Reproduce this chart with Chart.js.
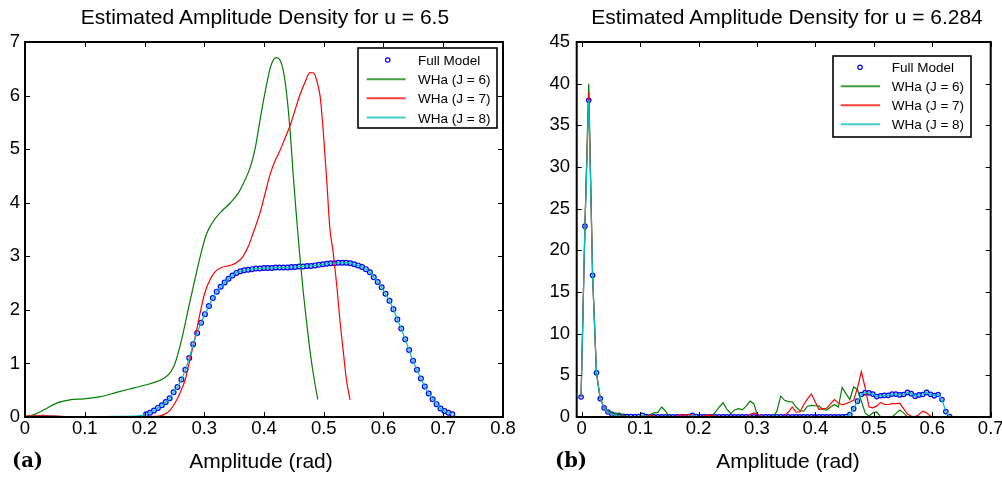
<!DOCTYPE html>
<html><head><meta charset="utf-8">
<script src="https://cdn.jsdelivr.net/npm/chart.js@4.4.1/dist/chart.umd.min.js"></script>
<style>
html,body{margin:0;padding:0;background:#fff;overflow:hidden;width:1002px;height:477px;}
#wrap{position:relative;width:1002px;height:477px;overflow:hidden;background:#fff;}
canvas{position:absolute;top:0;}
.t{position:absolute;font-family:"Liberation Sans",Arial,sans-serif;color:#000;line-height:1;white-space:nowrap;text-align:center;}
.lab{position:absolute;font-family:"DejaVu Serif",serif;font-weight:bold;color:#000;line-height:1;white-space:nowrap;}
</style></head><body>
<div id="wrap">
<canvas id="cA" width="520" height="477" style="left:0"></canvas>
<canvas id="cB" width="500" height="477" style="left:520px"></canvas>
<div class="t" style="left:65px;width:400px;top:6px;font-size:21px">Estimated Amplitude Density for u = 6.5</div>
<div class="t" style="left:587px;width:400px;top:6px;font-size:21px">Estimated Amplitude Density for u = 6.284</div>
<div class="t" style="left:161px;width:200px;top:449.5px;font-size:21px">Amplitude (rad)</div>
<div class="t" style="left:688px;width:200px;top:449.5px;font-size:21px">Amplitude (rad)</div>
<div class="lab" style="left:12px;top:451px;font-size:19.5px">(a)</div>
<div class="lab" style="left:555px;top:451px;font-size:19.5px">(b)</div>
</div>
<script>
// ---------- Panel (a): u = 6.5 ----------
const seriesNames = ["Full Model", "WHa (J = 6)", "WHa (J = 7)", "WHa (J = 8)"];
const xTicksA = [0, 0.1, 0.2, 0.3, 0.4, 0.5, 0.6, 0.7, 0.8];
const yTicksA = [0, 1, 2, 3, 4, 5, 6, 7];
const xTicksB = [0, 0.1, 0.2, 0.3, 0.4, 0.5, 0.6, 0.7];
const yTicksB = [0, 5, 10, 15, 20, 25, 30, 35, 40, 45];

const xL = [0.2027,0.2092,0.2158,0.2224,0.2290,0.2355,0.2421,0.2487,0.2552,0.2618,
 0.2684,0.2749,0.2815,0.2881,0.2947,0.3012,0.3078,0.3144,0.3209,0.3275,
 0.3341,0.3406,0.3472,0.3538,0.3604,0.3669,0.3735,0.3801,0.3866,0.3932,
 0.3998,0.4063,0.4129,0.4195,0.4260,0.4326,0.4392,0.4458,0.4523,0.4589,
 0.4655,0.4720,0.4786,0.4852,0.4918,0.4983,0.5049,0.5115,0.5180,0.5246,
 0.5312,0.5377,0.5443,0.5509,0.5575,0.5640,0.5706,0.5772,0.5837,0.5903,
 0.5969,0.6034,0.6100,0.6166,0.6232,0.6297,0.6363,0.6429,0.6494,0.6560,
 0.6626,0.6691,0.6757,0.6823,0.6888,0.6954,0.7020,0.7086,0.7151];
const fullL = [0.05,0.08,0.12,0.17,0.22,0.28,0.35,0.46,0.56,0.70,
 0.88,1.10,1.36,1.57,1.76,1.92,2.07,2.22,2.34,2.43,
 2.51,2.58,2.64,2.69,2.72,2.74,2.75,2.76,2.77,2.77,
 2.78,2.78,2.78,2.79,2.79,2.79,2.79,2.80,2.80,2.81,
 2.81,2.82,2.82,2.83,2.84,2.85,2.86,2.87,2.87,2.88,
 2.88,2.88,2.87,2.85,2.83,2.80,2.76,2.70,2.61,2.52,
 2.42,2.30,2.17,2.01,1.82,1.65,1.45,1.25,1.05,0.88,
 0.72,0.57,0.44,0.33,0.24,0.16,0.11,0.08,0.05];

const j6LX = [0,0.014,0.031,0.053,0.075,0.098,0.126,0.153,0.181,0.209,0.232,0.243,0.251,0.262,0.273,0.285,0.296,0.304,0.311,0.318,0.329,0.343,0.357,0.368,0.377,0.385,0.393,0.399,0.405,0.410,0.416,0.421,0.427,0.432,0.438,0.444,0.449,0.455,0.460,0.466,0.472,0.478,0.484,0.490];
const j6LY = [0,0.04,0.13,0.26,0.32,0.34,0.38,0.46,0.54,0.62,0.72,0.83,1.0,1.44,2.0,2.6,3.12,3.42,3.58,3.70,3.84,3.99,4.18,4.42,4.66,5.0,5.52,5.9,6.24,6.5,6.67,6.71,6.66,6.48,6.02,5.3,4.5,3.65,3.0,2.3,1.7,1.15,0.7,0.33];

const j7LX = [0,0.03,0.05,0.08,0.15,0.22,0.232,0.243,0.251,0.259,0.268,0.276,0.285,0.293,0.301,0.310,0.318,0.329,0.343,0.354,0.365,0.374,0.382,0.393,0.402,0.410,0.418,0.427,0.435,0.444,0.452,0.460,0.469,0.477,0.483,0.488,0.494,0.499,0.505,0.510,0.516,0.522,0.527,0.533,0.538,0.544];
const j7LY = [0.02,0.03,0.02,0,0,0.01,0.04,0.13,0.26,0.44,0.69,1.07,1.5,1.94,2.32,2.57,2.71,2.79,2.83,2.88,3.0,3.19,3.44,3.8,4.18,4.52,4.77,4.98,5.2,5.45,5.73,6.01,6.26,6.43,6.42,6.29,5.98,5.36,4.42,3.55,3.05,2.43,1.81,1.19,0.69,0.32];

const j8LeadX = [0, 0.05, 0.1, 0.15, 0.19];
const j8LeadY = [0.01, 0.01, 0.0, 0.01, 0.02];

// ---------- Panel (b): u = 6.284 ----------
const xR = [-0.0010,0.0056,0.0121,0.0187,0.0253,0.0318,0.0384,0.0450,0.0516,0.0581,
 0.0647,0.0713,0.0778,0.0844,0.0910,0.0976,0.1041,0.1107,0.1173,0.1238,
 0.1304,0.1370,0.1435,0.1501,0.1567,0.1633,0.1698,0.1764,0.1830,0.1895,
 0.1961,0.2027,0.2092,0.2158,0.2224,0.2290,0.2355,0.2421,0.2487,0.2552,
 0.2618,0.2684,0.2749,0.2815,0.2881,0.2947,0.3012,0.3078,0.3144,0.3209,
 0.3275,0.3341,0.3406,0.3472,0.3538,0.3604,0.3669,0.3735,0.3801,0.3866,
 0.3932,0.3998,0.4063,0.4129,0.4195,0.4260,0.4326,0.4392,0.4458,0.4523,
 0.4589,0.4655,0.4720,0.4786,0.4852,0.4918,0.4983,0.5049,0.5115,0.5180,
 0.5246,0.5312,0.5377,0.5443,0.5509,0.5575,0.5640,0.5706,0.5772,0.5837,
 0.5903,0.5969,0.6034,0.6100,0.6166,0.6232,0.6297];
const fullR = [2.4,22.9,38.0,17.0,5.3,2.2,1.1,0.6,0.35,0.2,
 0.12,0.08,0.05,0.05,0.03,0.05,0.2,0.05,0.02,0.01,
 0.02,0.01,0.02,0.02,0.01,0.02,0.02,0.01,0.05,0.2,
 0.05,0.02,0.01,0.02,0.02,0.01,0.02,0.01,0.02,0.02,
 0.01,0.02,0.02,0.01,0.02,0.01,0.02,0.02,0.01,0.02,
 0.02,0.01,0.02,0.01,0.02,0.02,0.01,0.02,0.01,0.02,
 0.02,0.01,0.02,0.02,0.01,0.02,0.01,0.02,0.02,0.05,
 0.3,1.0,1.9,2.7,2.92,2.9,2.75,2.45,2.55,2.6,
 2.6,2.75,2.75,2.65,2.7,2.95,2.8,2.5,2.65,2.7,
 2.95,2.72,2.56,2.7,2.1,0.65,0.05];
const j6R = [2.4,22.9,40.0,17.0,5.3,2.2,1.1,0.7,0.5,0.35,
 0.5,0.2,0.1,0.05,0,0,0,0.05,0.3,0.5,
 0.55,1.2,0.7,0.05,0,0,0,0,0,0,
 0,0,0,0,0.05,0.6,1.2,1.7,0.9,0.4,
 0.85,1.0,0.85,1.3,1.9,1.6,0.1,0,0,0,
 0,0.7,2.5,2.0,1.85,1.8,1.2,0.75,0.7,1.3,
 1.4,1.35,1.3,0.9,0.84,1.2,1.5,1.2,3.55,2.8,
 2.1,3.6,3.3,1.9,0.5,0.1,0.5,0.6,0.05,0,
 0,0,0.4,0.84,0.5,0,0,0,0,0,
 0,0,0];
const j7R = [2.4,22.9,39.0,17.0,5.3,2.2,1.1,0.6,0.35,0.2,
 0.15,0.1,0.05,0,0,0.02,0.05,0.1,0.15,0.1,
 0.05,0.02,0,0,0,0.1,0.25,0.25,0.25,0.25,
 0.05,0,0.1,0.25,0.2,0.1,0,0,0,0,
 0,0,0,0,0.3,0.5,0.3,0.05,0,0,
 0,0,0,0.1,0.6,1.2,0.6,0.6,1.5,2.2,
 2.75,1.8,0.9,1.0,1.05,1.6,2.1,1.7,1.45,1.6,
 1.8,2.0,3.5,5.45,3.5,1.2,1.1,1.3,1.75,1.5,
 1.5,1.6,1.6,1.65,1.0,0.35,0.1,0,0.3,0.7,
 0.5,0.1,0];
const j8R = fullR;

const COLORS = { full: '#0000ff', j6: '#008000', j7: '#ff0000', j8: '#00bfbf' };
const FONT = '"Liberation Sans", Arial, sans-serif';

const toXY = (xs, ys) => xs.map((x, i) => ({ x: x, y: ys[i] }));

const decor = {
  id: 'decor',
  afterDatasetsDraw(chart, args, o) {
    const ctx = chart.ctx, a = chart.chartArea, xs = chart.scales.x, ys = chart.scales.y;
    ctx.save();
    ctx.strokeStyle = '#000';
    ctx.lineWidth = 1;
    ctx.beginPath();
    xs.ticks.forEach(t => {
      const p = Math.round(xs.getPixelForValue(t.value)) + 0.5;
      ctx.moveTo(p, a.bottom); ctx.lineTo(p, a.bottom - o.tick);
      ctx.moveTo(p, a.top); ctx.lineTo(p, a.top + o.tick);
    });
    ys.ticks.forEach(t => {
      const p = Math.round(ys.getPixelForValue(t.value)) + 0.5;
      ctx.moveTo(a.left, p); ctx.lineTo(a.left + o.tick, p);
      ctx.moveTo(a.right, p); ctx.lineTo(a.right - o.tick, p);
    });
    ctx.stroke();
    ctx.lineWidth = 2;
    ctx.strokeRect(a.left, a.top, a.right - a.left, a.bottom - a.top);
    // legend
    const L = o.legend;
    ctx.fillStyle = '#fff';
    ctx.fillRect(L.x, L.y, L.w, L.h);
    ctx.lineWidth = 1.6;
    ctx.strokeStyle = '#000';
    ctx.strokeRect(L.x, L.y, L.w, L.h);
    ctx.font = '13.5px ' + FONT;
    ctx.textAlign = 'left';
    ctx.textBaseline = 'alphabetic';
    chart.data.datasets.forEach((ds, i) => {
      const by = L.rows[i], cy = by - 5;
      if (ds.showLine === false) {
        ctx.beginPath();
        ctx.arc(L.mx, cy, 2.2, 0, Math.PI * 2);
        ctx.lineWidth = 1.2;
        ctx.strokeStyle = ds.pointBorderColor;
        ctx.stroke();
      } else {
        ctx.globalAlpha = 0.75;
        ctx.beginPath();
        ctx.moveTo(L.l1, cy); ctx.lineTo(L.l2, cy);
        ctx.lineWidth = 2;
        ctx.strokeStyle = ds.borderColor;
        ctx.stroke();
        ctx.globalAlpha = 1;
      }
      ctx.fillStyle = '#000';
      ctx.fillText(ds.label, L.tx, by);
    });
    ctx.restore();
  }
};

function tickOpts(pad) {
  return { padding: pad, color: '#000', font: { family: FONT, size: 18.5 }, maxRotation: 0, autoSkip: false };
}

function makeChart(id, datasets, xr, yr, xt, yt, pad, yw, legend) {
  return new Chart(document.getElementById(id), {
    type: 'scatter',
    data: { datasets: datasets },
    plugins: [decor],
    options: {
      responsive: false, animation: false, events: [],
      layout: { padding: pad },
      plugins: { legend: { display: false }, tooltip: { enabled: false }, title: { display: false },
                 decor: { tick: 5, legend: legend } },
      scales: {
        x: { type: 'linear', min: xr[0], max: xr[1],
             ticks: Object.assign(tickOpts(1), { includeBounds: false, stepSize: 0.1 }),
             afterBuildTicks: s => { s.ticks = xt.map(v => ({ value: v })); },
             grid: { display: false, drawTicks: false }, border: { display: false },
             afterFit: s => { s.height = 60; } },
        y: { type: 'linear', min: yr[0], max: yr[1],
             ticks: Object.assign(tickOpts(yw[1]), {}),
             afterBuildTicks: s => { s.ticks = yt.map(v => ({ value: v })); },
             grid: { display: false, drawTicks: false }, border: { display: false },
             afterFit: s => { s.width = yw[0]; } }
      }
    }
  });
}

function mkDatasets(fx, fy, g, r, c, smooth, rad) {
  const line = (label, color, data, order) => ({
    label: label, data: data, showLine: true, borderColor: color, backgroundColor: color,
    borderWidth: 1.2, pointRadius: 0, fill: false, order: order,
    tension: 0, cubicInterpolationMode: smooth ? 'monotone' : 'default'
  });
  return [
    { label: seriesNames[0], data: toXY(fx, fy), showLine: false, pointRadius: rad,
      pointBorderWidth: 1.2, pointBorderColor: COLORS.full, pointBackgroundColor: 'rgba(120,170,255,0.35)', order: 4 },
    line(seriesNames[1], COLORS.j6, g, 3),
    line(seriesNames[2], COLORS.j7, r, 2),
    line(seriesNames[3], COLORS.j8, c, 1)
  ];
}

const dsA = mkDatasets(xL, fullL, toXY(j6LX, j6LY), toXY(j7LX, j7LY),
  toXY(j8LeadX.concat(xL), j8LeadY.concat(fullL)), true, 2.4);
makeChart('cA', dsA, [0, 0.8], [0, 7], xTicksA, yTicksA,
  { top: 42, right: 17, left: 0, bottom: 0 }, [25, 5],
  { x: 358, y: 48, w: 139, h: 80, rows: [65, 84.2, 103.3, 122.5], mx: 387.7, l1: 366.7, l2: 405.7, tx: 418 });

const dsB = mkDatasets(xR, fullR, toXY(xR.slice(0, j6R.length), j6R), toXY(xR.slice(0, j7R.length), j7R),
  toXY(xR, j8R), false, 2.2);
makeChart('cB', dsB, [-0.0085, 0.7], [0, 45], xTicksB, yTicksB,
  { top: 42, right: 29.3, left: 0, bottom: 0 }, [56.7, 6.7],
  { x: 313, y: 56, w: 138, h: 81, rows: [72.3, 91.3, 110.3, 129.3], mx: 340, l1: 320.7, l2: 360, tx: 371.7 });
</script>
</body></html>
